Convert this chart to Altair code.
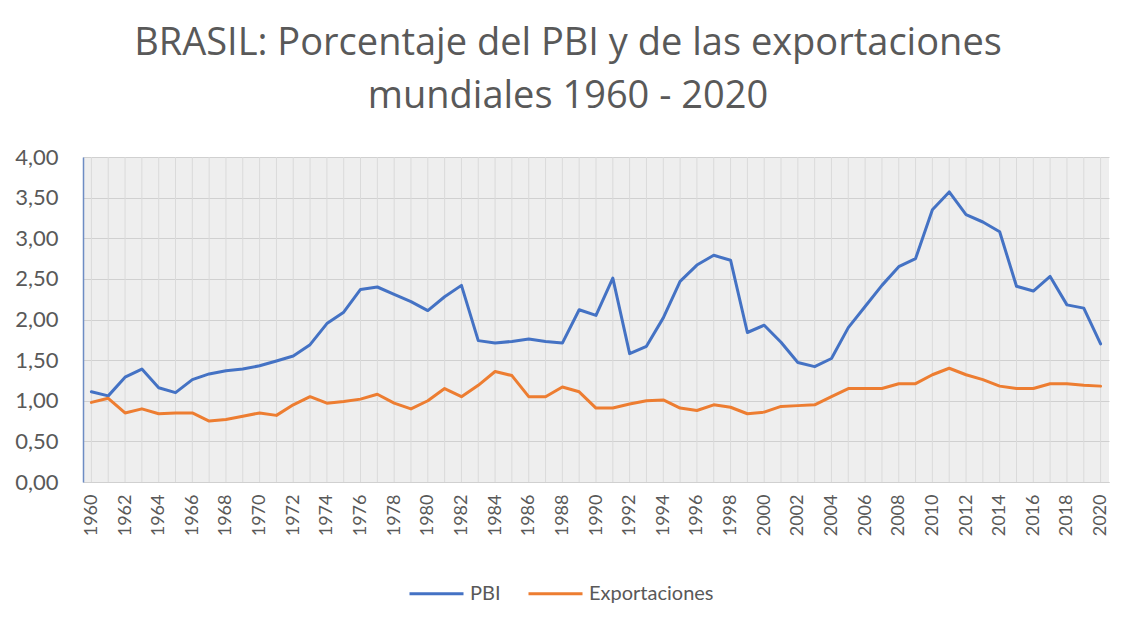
import altair as alt
import pandas as pd

years = list(range(1960, 2021))
pbi = [1.11, 1.06, 1.29, 1.39, 1.16, 1.10, 1.26, 1.33, 1.37, 1.39,
       1.43, 1.49, 1.55, 1.69, 1.95, 2.09, 2.37, 2.40, 2.31, 2.22,
       2.11, 2.28, 2.42, 1.74, 1.71, 1.73, 1.76, 1.73, 1.71, 2.12,
       2.05, 2.51, 1.58, 1.67, 2.02, 2.47, 2.67, 2.79, 2.73, 1.84,
       1.93, 1.72, 1.47, 1.42, 1.52, 1.90, 2.16, 2.42, 2.65, 2.75,
       3.35, 3.57, 3.29, 3.20, 3.08, 2.41, 2.35, 2.53, 2.18, 2.14, 1.70]
exportaciones = [0.98, 1.03, 0.85, 0.90, 0.84, 0.85, 0.85, 0.75, 0.77, 0.81,
                 0.85, 0.82, 0.95, 1.05, 0.97, 0.99, 1.02, 1.08, 0.97, 0.90,
                 1.00, 1.15, 1.05, 1.19, 1.36, 1.31, 1.05, 1.05, 1.17, 1.11,
                 0.91, 0.91, 0.96, 1.00, 1.01, 0.91, 0.88, 0.95, 0.92, 0.84,
                 0.86, 0.93, 0.94, 0.95, 1.05, 1.15, 1.15, 1.15, 1.21, 1.21,
                 1.32, 1.40, 1.32, 1.26, 1.18, 1.15, 1.15, 1.21, 1.21, 1.19, 1.18]
series = ["PBI", "Exportaciones"]
colors = ["#4472C4", "#ED7D31"]
y_ticks = [0, 0.5, 1, 1.5, 2, 2.5, 3, 3.5, 4]
x_labels = [y for y in years if y % 2 == 0]
title_lines = ["BRASIL: Porcentaje del PBI y de las exportaciones", "mundiales 1960 - 2020"]

df = pd.DataFrame({
    "Año": years * 2,
    "Serie": [series[0]] * len(years) + [series[1]] * len(years),
    "Valor": pbi + exportaciones,
})
grid_df = pd.DataFrame({"Año": years})

FONT = "Lato"
GRAY = "#595959"

x_enc = alt.X(
    "Año:O",
    scale=alt.Scale(type="point", padding=0.5),
    axis=alt.Axis(values=x_labels, labelAngle=-90, labelFontSize=18, labelColor=GRAY,
                  labelFont=FONT, ticks=False, domainColor="#d0d0d0", labelPadding=12,
                  grid=False),
    title=None,
)

grid = alt.Chart(grid_df).mark_rule(color="#dadada", strokeWidth=1).encode(x=x_enc)

lines = alt.Chart(df).mark_line(strokeWidth=3, strokeJoin="round", strokeCap="round").encode(
    x=x_enc,
    y=alt.Y("Valor:Q", scale=alt.Scale(domain=[0, 4]),
            axis=alt.Axis(values=y_ticks,
                          labelExpr="replace(format(datum.value, '.2f'), '.', ',')",
                          labelFontSize=22, labelColor=GRAY, labelFont=FONT, ticks=False,
                          labelPadding=25, domainColor="#6d8cc4", domainWidth=1.5,
                          grid=True, gridColor="#d0d0d0"),
            title=None),
    color=alt.Color("Serie:N", scale=alt.Scale(domain=series, range=colors),
                    legend=alt.Legend(orient="none", legendX=325, legendY=408,
                                      direction="horizontal", title=None,
                                      symbolType="stroke", symbolSize=2916,
                                      symbolStrokeWidth=3, labelFontSize=20,
                                      labelColor=GRAY, labelFont=FONT,
                                      columnPadding=21, labelOffset=5)),
)

chart = alt.layer(grid, lines).properties(
    width=1026,
    height=325,
    title=alt.Title(title_lines, fontSize=38, font="Open Sans", color=GRAY, fontWeight="normal",
                    lineHeight=53, anchor="middle", dx=-28, offset=30),
    autosize=alt.AutoSizeParams(type="none"),
    padding={"left": 75, "top": 149, "right": 15, "bottom": 127},
).configure_view(fill="#eeeeee", stroke=None)

chart.save("out.html", embed_options={"renderer": "svg", "actions": False})
